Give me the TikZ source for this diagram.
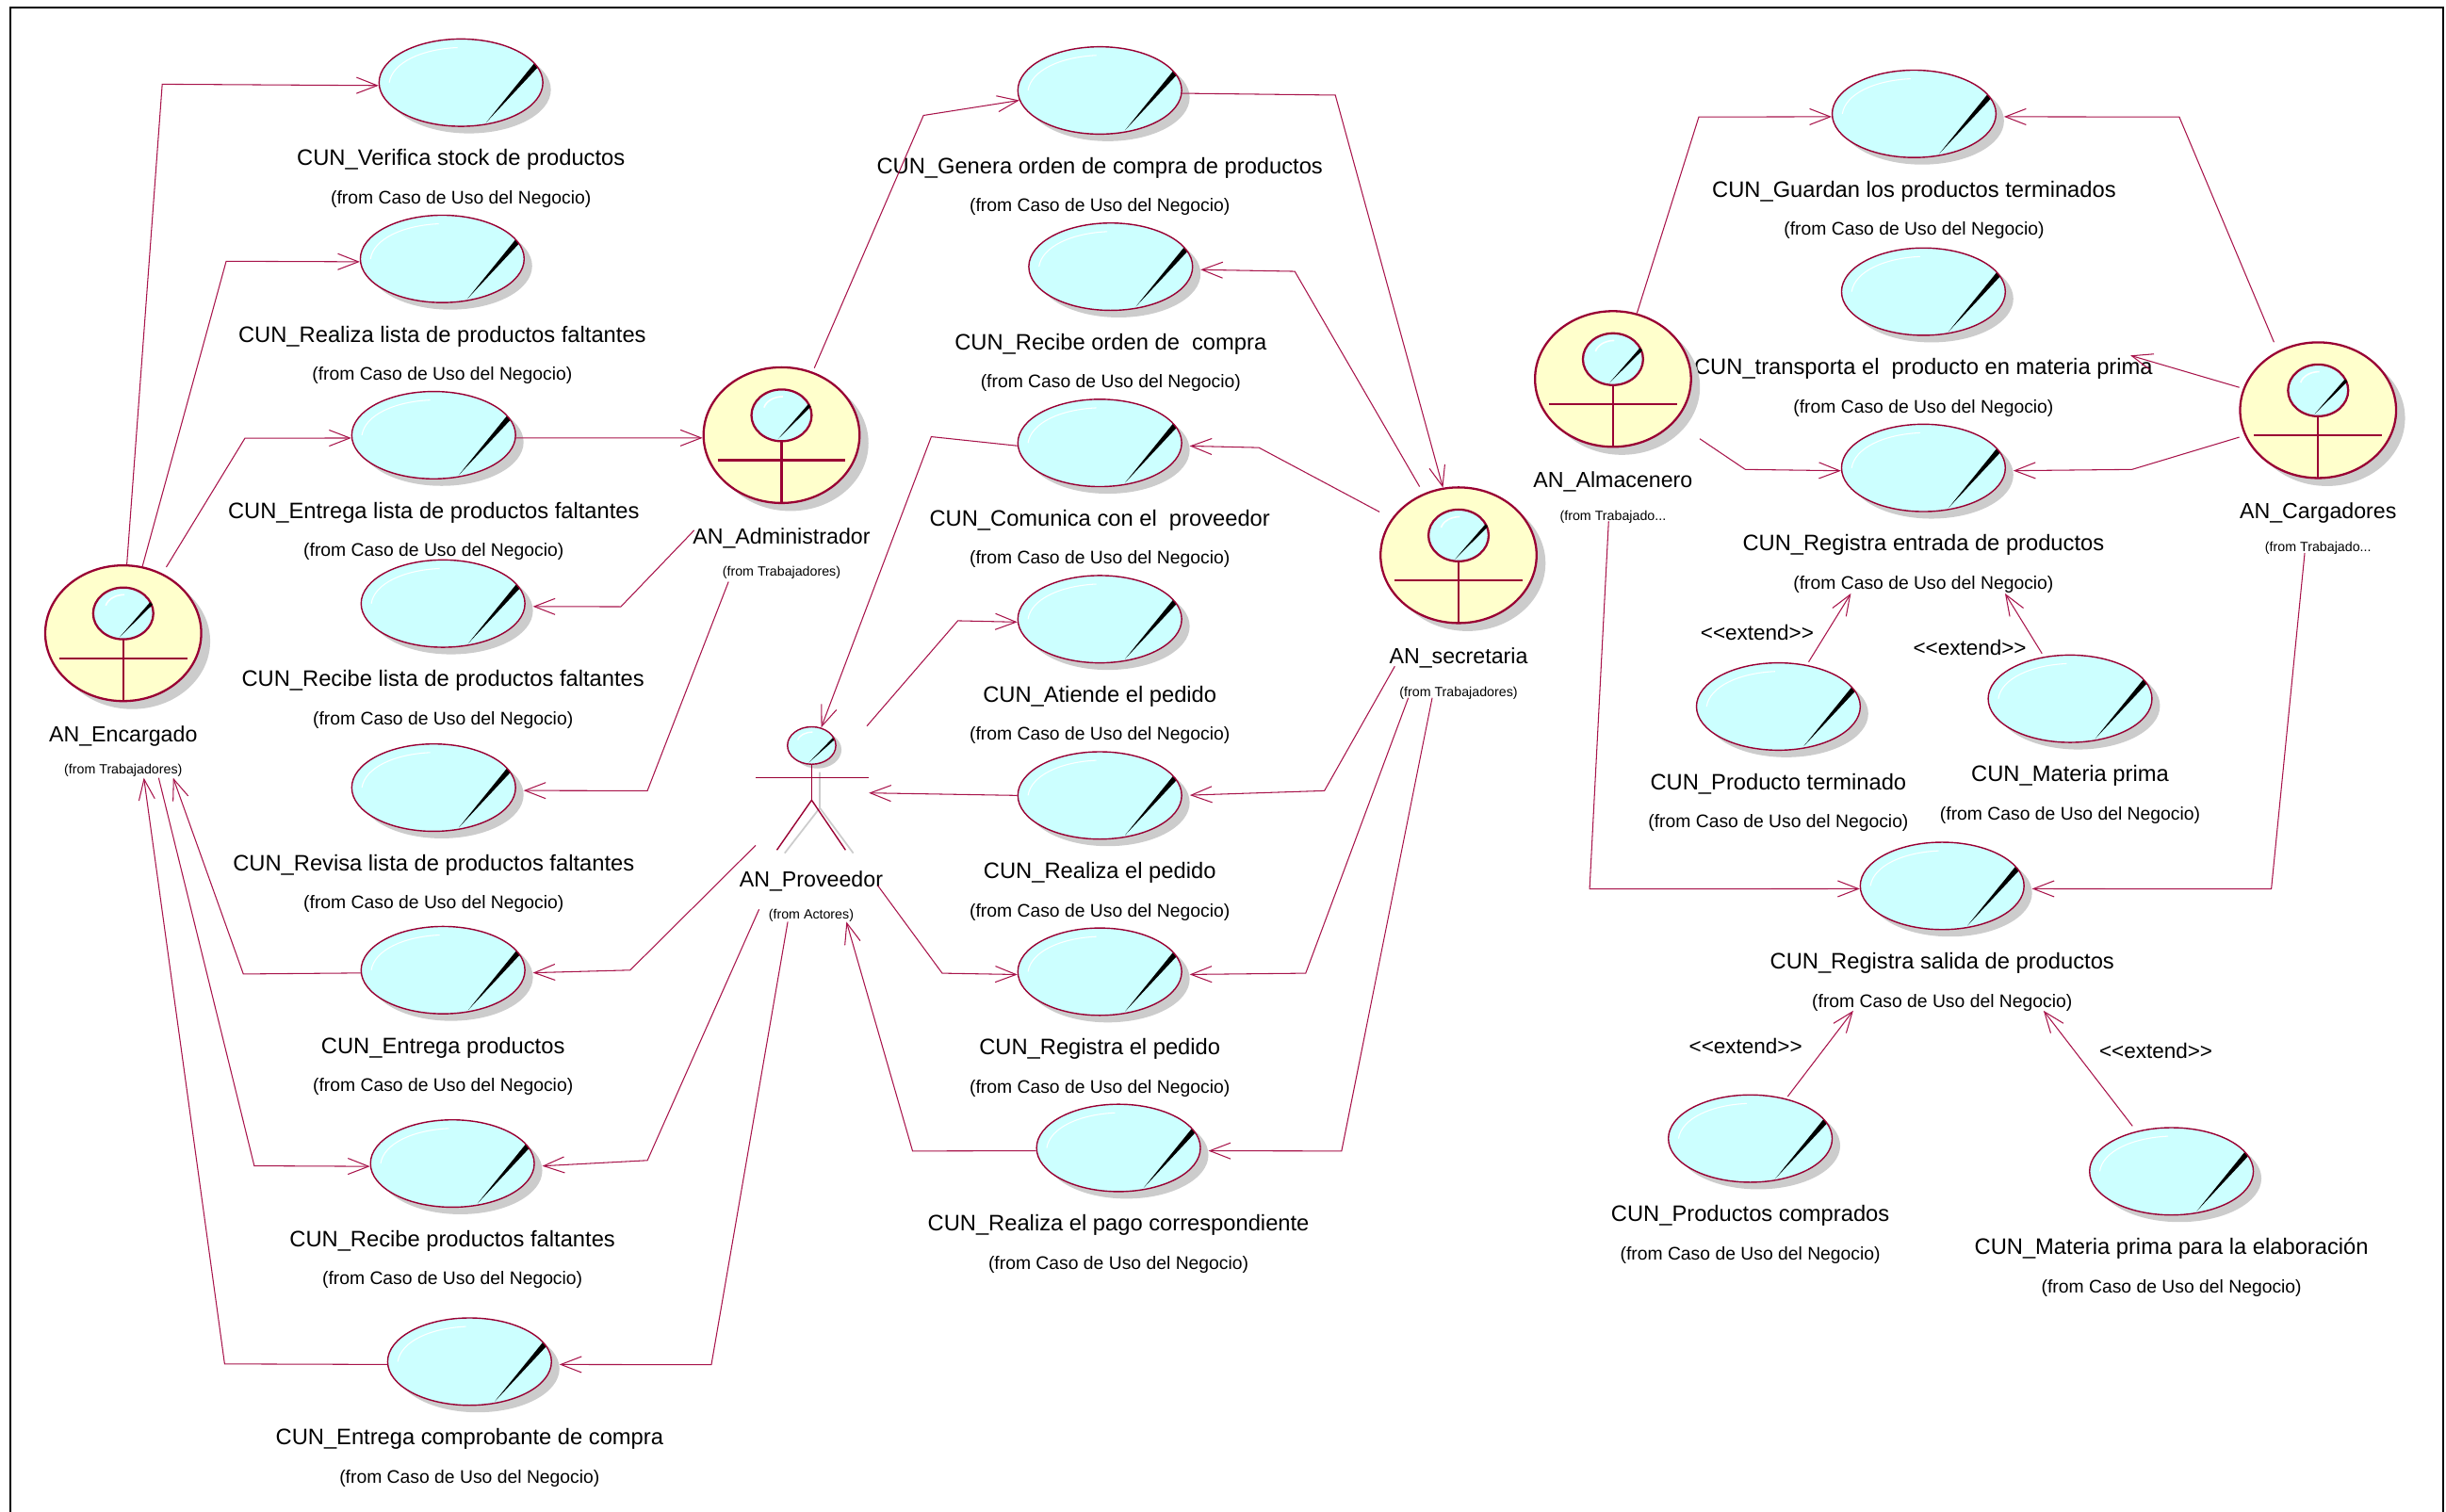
\documentclass[tikz,border=0pt]{standalone}
\usepackage{fontspec}
\setmainfont{Liberation Sans}
\usetikzlibrary{shapes.geometric, arrows.meta, positioning, shadows}
\definecolor{winered}{HTML}{990033}
\definecolor{linkred}{HTML}{A8144B}
\definecolor{ballcyan}{HTML}{CCFFFF}
\definecolor{actoryellow}{HTML}{FFFFCC}
\definecolor{shadowgray}{HTML}{CCCCCC}
\begin{document}
\begin{tikzpicture}[
    x=0.16556mm, y=-0.16556mm,
    >={Straight Barb[length=2.2mm,width=1.7mm]},
    ucase/.style={ellipse, draw=winered, fill=ballcyan, line width=0.4pt, inner sep=0, minimum width=105*0.16556mm, minimum height=56*0.16556mm,
        drop shadow={shadow xshift=0.85mm, shadow yshift=-0.75mm, fill=shadowgray, opacity=1},
        path picture={
            \begin{scope}[shift={(path picture bounding box.center)}]
            \fill[black] (46.8,-12.2) -- (49.6,-10.2) -- (16.2,25.5) -- cycle;
            \draw[white, line width=0.3pt] (-2.2,-22.5) .. controls (-25,-21.5) and (-44,-13) .. (-46,0);
            \end{scope}}},
    actor/.style={ellipse, draw=winered, fill=actoryellow, line width=0.65pt, inner sep=0, minimum width=100*0.16556mm, minimum height=87*0.16556mm,
        drop shadow={shadow xshift=0.95mm, shadow yshift=-0.85mm, fill=shadowgray, opacity=1},
        path picture={
            \begin{scope}[shift={(path picture bounding box.center)}]
            \draw[winered, line width=0.65pt] (-41,16) -- (41,16);
            \draw[winered, line width=0.65pt] (0,4) -- (0,44);
            \filldraw[draw=winered, fill=ballcyan, line width=0.65pt] (0,-12.7) ellipse (19.3 and 16.6);
            \fill[black] (17.2,-19.9) -- (18.8,-18.3) -- (-2.2,2.4) -- cycle;
            \draw[white, line width=0.45pt] (0.8,-24.7) .. controls (-5,-24.7) and (-10,-21.7) .. (-11.2,-17.7);
            \end{scope}}},
    stickhead/.style={ellipse, draw=winered, fill=ballcyan, line width=0.4pt, inner sep=0, minimum width=31*0.16556mm, minimum height=24*0.16556mm,
        drop shadow={shadow xshift=0.6mm, shadow yshift=-0.45mm, fill=shadowgray, opacity=1},
        path picture={
            \begin{scope}[shift={(path picture bounding box.center)}]
            \fill[black] (13.8,-5.2) -- (15,-4) -- (-1.8,10.9) -- cycle;
            \draw[white, line width=0.4pt] (0.6,-8.6) .. controls (-4,-8.6) and (-8,-6.5) .. (-9,-3.6);
            \end{scope}}},
    nametxt/.style={font=\fontsize{6.75}{7}\selectfont, inner sep=0, text height=1.5mm, text depth=0.5mm},
    actname/.style={font=\fontsize{6.6}{7}\selectfont, inner sep=0, text height=1.5mm, text depth=0.5mm},
    fromtxt/.style={font=\fontsize{5.5}{6}\selectfont, inner sep=0, text height=1.3mm, text depth=0.45mm},
    acttxt/.style={font=\fontsize{4.05}{5}\selectfont, inner sep=0, text height=1mm, text depth=0.35mm},
    exttxt/.style={font=\fontsize{6.4}{7}\selectfont, inner sep=0},
    link/.style={->, linkred, line width=0.3pt},
    shadowlink/.style={link, shorten >=0.8mm}
]

\useasboundingbox (0,0) rectangle (1568,969.4);
\draw[black, line width=0.6pt] (6.5,5) rectangle (1566.4,975);

% Left column
\node[ucase] (verifica) at (295.5,53) {};
\node[nametxt, below=2.55mm of verifica] (verificaname) {CUN\_Verifica stock de productos};
\node[fromtxt, below=2.1mm of verificaname] (verificafrom) {(from Caso de Uso del Negocio)};

\node[ucase] (realizalista) at (283.5,166) {};
\node[nametxt, below=2.55mm of realizalista] (realizalistaname) {CUN\_Realiza lista de productos faltantes};
\node[fromtxt, below=2.1mm of realizalistaname] (realizalistafrom) {(from Caso de Uso del Negocio)};

\node[ucase] (entregalista) at (278,279) {};
\node[nametxt, below=2.55mm of entregalista] (entregalistaname) {CUN\_Entrega lista de productos faltantes};
\node[fromtxt, below=2.1mm of entregalistaname] (entregalistafrom) {(from Caso de Uso del Negocio)};

\node[ucase] (recibelista) at (284,387) {};
\node[nametxt, below=2.55mm of recibelista] (recibelistaname) {CUN\_Recibe lista de productos faltantes};
\node[fromtxt, below=2.1mm of recibelistaname] (recibelistafrom) {(from Caso de Uso del Negocio)};

\node[ucase] (revisa) at (278,505) {};
\node[nametxt, below=2.55mm of revisa] (revisaname) {CUN\_Revisa lista de productos faltantes};
\node[fromtxt, below=2.1mm of revisaname] (revisafrom) {(from Caso de Uso del Negocio)};

\node[ucase] (entregaprod) at (284,622) {};
\node[nametxt, below=2.55mm of entregaprod] (entregaprodname) {CUN\_Entrega productos};
\node[fromtxt, below=2.1mm of entregaprodname] (entregaprodfrom) {(from Caso de Uso del Negocio)};

\node[ucase] (recibefalt) at (290,746) {};
\node[nametxt, below=2.55mm of recibefalt] (recibefaltname) {CUN\_Recibe productos faltantes};
\node[fromtxt, below=2.1mm of recibefaltname] (recibefaltfrom) {(from Caso de Uso del Negocio)};

\node[ucase] (comprobante) at (301,873) {};
\node[nametxt, below=2.55mm of comprobante] (comprobantename) {CUN\_Entrega comprobante de compra};
\node[fromtxt, below=2.1mm of comprobantename] (comprobantefrom) {(from Caso de Uso del Negocio)};

% Middle column
\node[ucase] (genera) at (705,58) {};
\node[nametxt, below=2.55mm of genera] (generaname) {CUN\_Genera orden de compra de productos};
\node[fromtxt, below=2.1mm of generaname] (generafrom) {(from Caso de Uso del Negocio)};

\node[ucase] (recibeorden) at (712,171) {};
\node[nametxt, below=2.55mm of recibeorden] (recibeordenname) {CUN\_Recibe orden de \ compra};
\node[fromtxt, below=2.1mm of recibeordenname] (recibeordenfrom) {(from Caso de Uso del Negocio)};

\node[ucase] (comunica) at (705,284) {};
\node[nametxt, below=2.55mm of comunica] (comunicaname) {CUN\_Comunica con el \ proveedor};
\node[fromtxt, below=2.1mm of comunicaname] (comunicafrom) {(from Caso de Uso del Negocio)};

\node[ucase] (atiende) at (705,397) {};
\node[nametxt, below=2.55mm of atiende] (atiendename) {CUN\_Atiende el pedido};
\node[fromtxt, below=2.1mm of atiendename] (atiendefrom) {(from Caso de Uso del Negocio)};

\node[ucase] (realizapedido) at (705,510) {};
\node[nametxt, below=2.55mm of realizapedido] (realizapedidoname) {CUN\_Realiza el pedido};
\node[fromtxt, below=2.1mm of realizapedidoname] (realizapedidofrom) {(from Caso de Uso del Negocio)};

\node[ucase] (registrapedido) at (705,623) {};
\node[nametxt, below=2.55mm of registrapedido] (registrapedidoname) {CUN\_Registra el pedido};
\node[fromtxt, below=2.1mm of registrapedidoname] (registrapedidofrom) {(from Caso de Uso del Negocio)};

\node[ucase] (pago) at (717,736) {};
\node[nametxt, below=2.55mm of pago] (pagoname) {CUN\_Realiza el pago correspondiente};
\node[fromtxt, below=2.1mm of pagoname] (pagofrom) {(from Caso de Uso del Negocio)};

% Right column
\node[ucase] (guardan) at (1227,73) {};
\node[nametxt, below=2.55mm of guardan] (guardanname) {CUN\_Guardan los productos terminados};
\node[fromtxt, below=2.1mm of guardanname] (guardanfrom) {(from Caso de Uso del Negocio)};

\node[ucase] (transporta) at (1233,187) {};
\node[nametxt, below=2.55mm of transporta] (transportaname) {CUN\_transporta el \ producto en materia prima};
\node[fromtxt, below=2.1mm of transportaname] (transportafrom) {(from Caso de Uso del Negocio)};

\node[ucase] (entrada) at (1233,300) {};
\node[nametxt, below=2.55mm of entrada] (entradaname) {CUN\_Registra entrada de productos};
\node[fromtxt, below=2.1mm of entradaname] (entradafrom) {(from Caso de Uso del Negocio)};

\node[ucase] (terminado) at (1140,453) {};
\node[nametxt, below=2.55mm of terminado] (terminadoname) {CUN\_Producto terminado};
\node[fromtxt, below=2.1mm of terminadoname] (terminadofrom) {(from Caso de Uso del Negocio)};

\node[ucase] (materia) at (1327,448) {};
\node[nametxt, below=2.55mm of materia] (materianame) {CUN\_Materia prima};
\node[fromtxt, below=2.1mm of materianame] (materiafrom) {(from Caso de Uso del Negocio)};

\node[ucase] (salida) at (1245,568) {};
\node[nametxt, below=2.55mm of salida] (salidaname) {CUN\_Registra salida de productos};
\node[fromtxt, below=2.1mm of salidaname] (salidafrom) {(from Caso de Uso del Negocio)};

\node[ucase] (comprados) at (1122,730) {};
\node[nametxt, below=2.55mm of comprados] (compradosname) {CUN\_Productos comprados};
\node[fromtxt, below=2.1mm of compradosname] (compradosfrom) {(from Caso de Uso del Negocio)};

\node[ucase] (elaboracion) at (1392,751) {};
\node[nametxt, below=2.55mm of elaboracion] (elaboracionname) {CUN\_Materia prima para la elaboración};
\node[fromtxt, below=2.1mm of elaboracionname] (elaboracionfrom) {(from Caso de Uso del Negocio)};

% Actors
\node[actor] (encargado) at (79,406) {};
\node[actname, below=2.65mm of encargado] (encargadoname) {AN\_Encargado};
\node[acttxt, below=1.8mm of encargadoname] (encargadofrom) {(from Trabajadores)};

\node[actor] (admin) at (501,279) {};
\node[actname, below=2.65mm of admin] (adminname) {AN\_Administrador};
\node[acttxt, below=1.8mm of adminname] (adminfrom) {(from Trabajadores)};

\node[actor] (secretaria) at (935,356) {};
\node[actname, below=2.65mm of secretaria] (secretarianame) {AN\_secretaria};
\node[acttxt, below=1.8mm of secretarianame] (secretariafrom) {(from Trabajadores)};

\node[actor] (almacenero) at (1034,243) {};
\node[actname, below=2.65mm of almacenero] (almaceneroname) {AN\_Almacenero};
\node[acttxt, below=1.8mm of almaceneroname] (almacenerofrom) {(from Trabajado...};

\node[actor] (cargadores) at (1486,263) {};
\node[actname, below=2.65mm of cargadores] (cargadoresname) {AN\_Cargadores};
\node[acttxt, below=1.8mm of cargadoresname] (cargadoresfrom) {(from Trabajado...};

% Stick figure
\draw[shadowgray, line width=0.5pt] (525.5,495) -- (525.5,518) (525.5,518) -- (503,547) (525.5,518) -- (547,547);
\node[stickhead] (provhead) at (520.3,478) {};
\draw[winered, line width=0.4pt] (provhead.south) -- (520.3,513) coordinate (provhip);
\draw[winered, line width=0.4pt] (484.5,498.7) -- (556.7,498.7);
\draw[winered, line width=0.4pt] (498,545) -- (provhip) -- (542,545);
\node[actname] (provname) at (520,565.5) {AN\_Proveedor};
\node[acttxt] (provfrom) at (520,587.5) {(from Actores)};

% Free ends next to the actors
\coordinate (encright) at (106.6,363.6);
\coordinate (encsouth1) at (92.2,498.7);
\coordinate (encsouth2) at (101.7,498.7);
\coordinate (encsouth3) at (111,498.7);
\coordinate (provleg) at (484.4,542);
\coordinate (provside) at (555.7,465.5);
\coordinate (provarm) at (557,508.4);
\coordinate (provtxt1) at (486.6,583);
\coordinate (provtxt2) at (505,591);
\coordinate (provtxt3) at (542.6,591);
\coordinate (provtxt4) at (562.7,567.8);
\coordinate (admintop) at (522,236);
\coordinate (adminleft) at (445,340);
\coordinate (adminlow) at (467,373);
\coordinate (sectop) at (910,312);
\coordinate (secside) at (884.3,328.2);
\coordinate (secleft) at (894.1,427.2);
\coordinate (seclow1) at (902.8,447.4);
\coordinate (seclow2) at (918.1,447.4);
\coordinate (almright) at (1089.6,281.3);
\coordinate (almlow) at (1031.2,334.2);
\coordinate (cartop) at (1457.7,219.4);
\coordinate (carside1) at (1435.5,248.4);
\coordinate (carside2) at (1435.5,280.3);
\coordinate (carlow) at (1477.4,354.7);
\coordinate (entradalow1) at (1186.5,380.5);
\coordinate (entradalow2) at (1285.3,380.5);
\coordinate (terminadotop) at (1159.4,424.4);
\coordinate (materiatop) at (1309,419);
\coordinate (salidalow1) at (1188,648);
\coordinate (salidalow2) at (1310,648);
\coordinate (compradostop) at (1146,703);
\coordinate (elaboraciontop) at (1367,722);
\coordinate (transright) at (1365.7,227.9);

% Encargado
\draw[link] (encargado.87) -- (104,54) -- (verifica.182);
\draw[link] (encargado.74) -- (145,167.5) -- (realizalista.182);
\draw[link] (encright) -- (157,281) -- (entregalista.182);
\draw[link] (entregaprod.182) -- (156,624.5) -- (encsouth3);
\draw[link] (encsouth2) -- (163,747.5) -- (recibefalt.182);
\draw[link] (comprobante.182) -- (144,874.5) -- (encsouth1);

% Administrador
\draw[link] (entregalista.-2) -- (admin.182);
\draw[shadowlink] (adminleft) -- (398,389) -- (recibelista.-2);
\draw[shadowlink] (adminlow) -- (415,507) -- (revisa.-2);
\draw[link] (admintop) -- (592,74) -- (genera.187);

% Proveedor
\draw[shadowlink] (provleg) -- (404,622) -- (entregaprod.-2);
\draw[shadowlink] (provtxt1) -- (415,744) -- (recibefalt.-2);
\draw[shadowlink] (provtxt2) -- (456,875) -- (comprobante.-2);
\draw[link] (comunica.182) -- (597,280) -- (provhead.62);
\draw[link] (provside) -- (614,398) -- (atiende.182);
\draw[link] (realizapedido.180) -- (provarm);
\draw[link] (provtxt4) -- (604,624) -- (registrapedido.182);
\draw[link] (pago.182) -- (585,738) -- (provtxt3);

% Secretaria
\draw[link] (genera.-2) -- (856,61) -- (secretaria.103);
\draw[shadowlink] (sectop) -- (830,174) -- (recibeorden.-2);
\draw[shadowlink] (secside) -- (807,287) -- (comunica.-2);
\draw[shadowlink] (secleft) -- (849,507) -- (realizapedido.0);
\draw[shadowlink] (seclow1) -- (837,624) -- (registrapedido.-2);
\draw[shadowlink] (seclow2) -- (860,738) -- (pago.-2);

% Almacenero and Cargadores
\draw[link] (almacenero.70) -- (1089,75) -- (guardan.182);
\draw[link] (almright) -- (1118.8,301) -- (entrada.182);
\draw[link] (almlow) -- (1019,570) -- (salida.182);
\draw[shadowlink] (cartop) -- (1397,75) -- (guardan.-2);
\draw[link] (carside1) -- (transright);
\draw[shadowlink] (carside2) -- (1366.7,301) -- (entrada.-2);
\draw[shadowlink] (carlow) -- (1456,570) -- (salida.-2);

% Extends
\draw[link] (terminadotop) -- (entradalow1);
\draw[link] (materiatop) -- (entradalow2);
\draw[link] (compradostop) -- (salidalow1);
\draw[link] (elaboraciontop) -- (salidalow2);

\node[exttxt] (ext1) at (1126.4,405.3) {<{}<extend>{}>};
\node[exttxt] (ext2) at (1262.7,415.3) {<{}<extend>{}>};
\node[exttxt] (ext3) at (1119,671) {<{}<extend>{}>};
\node[exttxt] (ext4) at (1382,674) {<{}<extend>{}>};

\end{tikzpicture}
\end{document}
